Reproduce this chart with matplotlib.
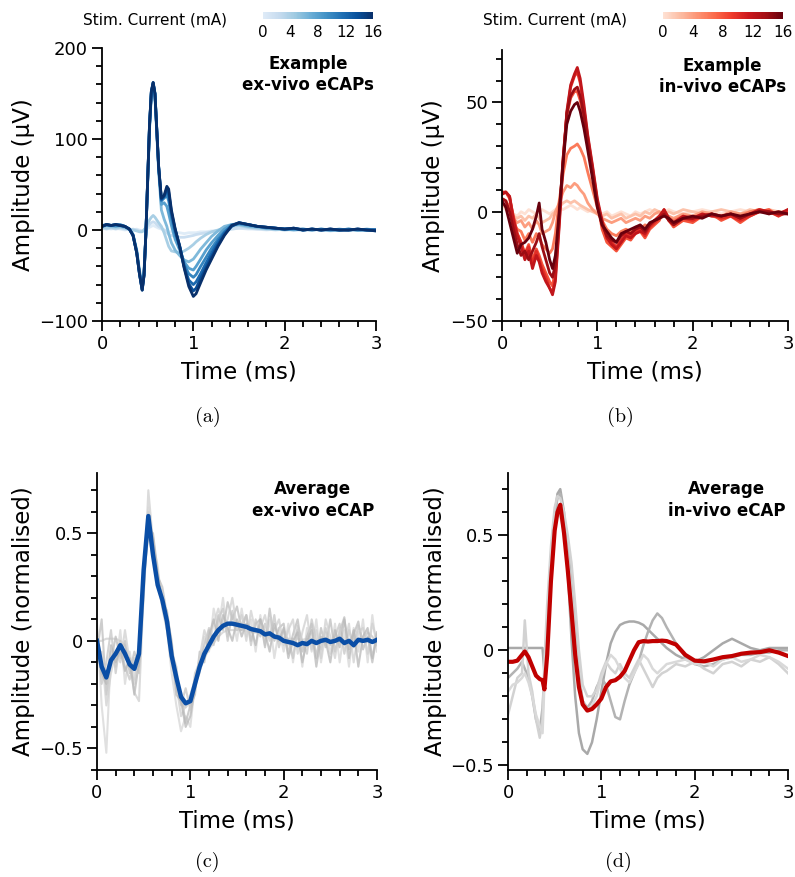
import numpy as np
import matplotlib
matplotlib.use("Agg")
import matplotlib.pyplot as plt
from matplotlib.colors import LinearSegmentedColormap, Normalize
from matplotlib.cm import ScalarMappable
from matplotlib.ticker import MultipleLocator, FuncFormatter

plt.rcParams['font.family'] = ['DejaVu Sans']

# ---------------- data ----------------
currents = [0, 2, 4, 6, 8, 10, 12, 14, 16]

# (a) ex-vivo example eCAPs (uV)
t_a = [0, 0.05, 0.1, 0.15, 0.2, 0.25, 0.3, 0.34, 0.38, 0.41, 0.44, 0.46, 0.48, 0.5, 0.52, 0.54, 0.56, 0.58,
       0.6, 0.62, 0.65, 0.68, 0.71, 0.73, 0.76, 0.8, 0.85, 0.9, 0.95, 1.0, 1.03, 1.08, 1.14, 1.2, 1.27, 1.34,
       1.42, 1.5, 1.6, 1.7, 1.8, 1.9, 2.0, 2.1, 2.2, 2.3, 2.4, 2.5, 2.6, 2.7, 2.8, 2.9, 3.0]
exv_0mA = [1, 2, 1, 2, 1, 0, 1, 0, 1, 0, -1, 0, 1, 2, 3, 4, 5, 4, 3, 2, 1, 0, -1, -2, -2, -3, -3, -4, -3, -3,
           -3, -2, -2, -1, -1, 0, 1, 2, 1, 1, 0, 1, 0, 0, 1, 0, 0, 1, 0, 0, 1, 0, 0]
exv_2mA = [2, 1, 2, 1, 2, 1, 0, 1, 0, -1, -1, 0, 2, 4, 6, 8, 9, 8, 6, 4, 2, 0, -3, -5, -6, -7, -8, -8, -7, -6,
           -5, -4, -3, -2, -1, 0, 1, 2, 2, 1, 1, 0, 1, 0, 0, 1, 0, -1, 0, 1, 0, 0, 0]
exv_4mA = [3, 2, 3, 2, 3, 2, 1, 0, -1, -2, -2, 0, 3, 7, 11, 14, 16, 14, 11, 8, 4, -3, -12, -18, -23, -24, -25,
           -23, -20, -16, -13, -9, -5, -2, 0, 2, 4, 5, 3, 2, 1, 1, 0, 1, 0, 0, 1, 0, 0, 1, 0, 0, 0]
exv_6mA = [4, 5, 4, 5, 4, 3, 1, -5, -22, -44, -60, -45, -4, 52, 110, 148, 157, 146, 105, 65, 22, 12, 4, -4,
           -14, -22, -28, -33, -35, -32, -28, -21, -14, -7, -1, 4, 6, 6, 4, 3, 2, 1, 1, 0, 1, 0, 1, 0, 0, 1,
           0, 0, 0]
exv_8mA = [4, 5, 5, 4, 5, 4, 1, -5, -23, -46, -63, -48, -5, 54, 112, 150, 160, 148, 108, 68, 28, 30, 26, 18,
           5, -10, -22, -35, -42, -44, -40, -32, -22, -14, -6, 1, 6, 7, 5, 4, 2, 2, 1, 1, 0, 1, 0, 0, 1, 0,
           0, 1, 0]
exv_10mA = [5, 6, 5, 5, 6, 4, 1, -6, -24, -47, -65, -49, -5, 55, 113, 151, 161, 149, 109, 69, 32, 35, 38, 32,
            14, -4, -18, -38, -48, -52, -49, -40, -30, -20, -10, -2, 5, 7, 6, 4, 3, 2, 1, 1, 1, 0, 1, 0, 0, 1,
            0, 0, -1]
exv_12mA = [4, 6, 5, 6, 5, 4, 1, -6, -25, -48, -66, -50, -5, 55, 114, 152, 162, 150, 110, 70, 33, 37, 42, 39,
            18, 0, -17, -40, -55, -60, -57, -48, -36, -25, -13, -3, 5, 8, 6, 4, 3, 2, 1, 2, 0, 1, 0, 1, 0, 0,
            1, 0, 0]
exv_14mA = [4, 6, 5, 6, 5, 4, 1, -6, -25, -48, -66, -50, -5, 55, 115, 152, 162, 150, 110, 70, 34, 37, 45, 42,
            20, 1, -18, -41, -59, -67, -64, -53, -41, -29, -16, -5, 4, 8, 6, 4, 3, 2, 1, 2, 0, 1, 0, 1, 0, 0,
            1, 0, 0]
exv_16mA = [4, 6, 5, 6, 5, 4, 1, -6, -25, -48, -66, -50, -5, 55, 115, 152, 162, 150, 110, 70, 35, 38, 48, 45,
            22, 2, -18, -42, -62, -73, -70, -58, -44, -32, -18, -6, 5, 8, 6, 4, 3, 2, 1, 2, 0, 1, 0, 1, 0, 0,
            1, 0, -1]

# (b) in-vivo example eCAPs (uV)
t_b = [0, 0.04, 0.08, 0.12, 0.16, 0.2, 0.24, 0.28, 0.32, 0.36, 0.39, 0.42, 0.46, 0.5, 0.53, 0.56, 0.6, 0.64,
       0.68, 0.72, 0.76, 0.79, 0.82, 0.86, 0.9, 0.95, 1.0, 1.05, 1.1, 1.15, 1.2, 1.25, 1.3, 1.35, 1.4, 1.45,
       1.5, 1.55, 1.6, 1.65, 1.7, 1.75, 1.8, 1.9, 2.0, 2.1, 2.2, 2.3, 2.4, 2.5, 2.6, 2.7, 2.8, 2.9, 3.0]
inv_0mA = [2, 1, 0, -1, -2, 0, -1, 1, 0, -1, 0, 1, 0, -1, 0, 1, 2, 1, 2, 3, 2, 1, 2, 1, 0, 1, 0, -1, 0, -2,
           -1, 0, -1, -2, 0, -1, 0, 1, 0, -1, 0, 1, 0, -1, 0, 1, 0, -1, 0, 1, 0, 1, 0, -1, 0]
inv_2mA = [3, 2, 0, -2, -3, -2, -4, -2, -3, -1, -3, -5, -4, -3, -1, 0, 2, 4, 5, 4, 5, 4, 3, 2, 1, 0, -1, -2,
           -1, -3, -2, -1, -3, -2, -1, -2, 0, -1, 1, 0, -1, 0, -1, 1, 0, -1, 0, 1, 0, -1, 1, 0, 1, 0, 0]
inv_4mA = [4, 3, 1, -3, -5, -4, -7, -5, -8, -4, -6, -10, -9, -8, -5, 0, 4, 9, 12, 11, 13, 12, 10, 8, 4, 1, -1,
           -3, -4, -5, -4, -3, -5, -4, -3, -4, -2, -3, -1, 0, -1, -2, -3, -1, -2, 0, -1, -2, 0, -1, 0, 1, 0,
           -1, 0]
inv_6mA = [6, 5, 2, -5, -8, -9, -13, -10, -14, -10, -12, -15, -17, -19, -17, -10, 5, 17, 26, 29, 30, 31, 29,
           25, 18, 10, 2, -4, -8, -10, -11, -9, -8, -9, -7, -8, -6, -7, -4, -2, -1, -3, -4, -2, -3, -1, -2, -3,
           -1, -2, 0, 1, -1, 0, -1]
inv_8mA = [8, 9, 6, -2, -10, -14, -19, -15, -22, -17, -20, -24, -28, -32, -34, -26, -3, 24, 44, 52, 55, 55,
           51, 42, 32, 19, 4, -8, -14, -16, -18, -15, -12, -13, -10, -9, -12, -8, -6, -4, 1, -4, -7, -4, -5,
           -2, -1, -4, -2, -5, -2, 0, 1, -2, 1]
inv_10mA = [9, 9, 7, -3, -10, -14, -20, -16, -24, -18, -22, -26, -30, -35, -37, -30, -5, 22, 45, 57, 62, 64,
            59, 47, 34, 20, 5, -5, -11, -14, -16, -13, -10, -11, -9, -8, -11, -7, -5, -3, 0, -4, -6, -3, -4,
            -2, -1, -3, -2, -4, -2, 0, 0, -2, 0]
inv_12mA = [8, 9, 7, -4, -11, -16, -22, -18, -26, -20, -23, -28, -32, -35, -38, -32, -7, 21, 46, 58, 63, 66,
            61, 49, 35, 21, 6, -4, -12, -15, -17, -14, -11, -12, -10, -9, -10, -6, -4, -2, 1, -3, -5, -2, -3,
            -1, -2, -2, -1, -3, -1, 1, 0, -1, 1]
inv_14mA = [6, 5, 0, -8, -15, -20, -18, -22, -18, -14, -10, -16, -22, -28, -30, -24, -2, 24, 45, 53, 56, 57,
            53, 44, 32, 18, 3, -6, -11, -13, -14, -11, -9, -10, -8, -7, -9, -6, -4, -3, -1, -4, -6, -3, -3,
            -2, -1, -2, -1, -3, -1, 0, 0, -1, -1]
inv_16mA = [5, 2, -5, -12, -19, -15, -14, -12, -8, -2, 4, -8, -14, -22, -26, -20, 0, 22, 40, 46, 49, 50, 46,
            38, 28, 15, 2, -6, -9, -12, -14, -10, -9, -8, -7, -6, -8, -5, -4, -3, -2, -3, -5, -3, -2, -3, -1,
            -2, -1, -2, -1, 0, -1, 0, -1]

# (c) average ex-vivo eCAP (normalised)
t_c = [0.0, 0.05, 0.1, 0.15, 0.2, 0.25, 0.3, 0.35, 0.4, 0.45, 0.5, 0.55, 0.6, 0.65, 0.7, 0.75, 0.8, 0.85,
       0.9, 0.95, 1.0, 1.05, 1.1, 1.15, 1.2, 1.25, 1.3, 1.35, 1.4, 1.45, 1.5, 1.55, 1.6, 1.65, 1.7, 1.75,
       1.8, 1.85, 1.9, 1.95, 2.0, 2.05, 2.1, 2.15, 2.2, 2.25, 2.3, 2.35, 2.4, 2.45, 2.5, 2.55, 2.6, 2.65,
       2.7, 2.75, 2.8, 2.85, 2.9, 2.95, 3.0]
avg_exv = [0.0, -0.12, -0.17, -0.09, -0.06, -0.02, -0.06, -0.11, -0.13, -0.06,
           0.33, 0.58, 0.40, 0.26, 0.19, 0.09, -0.07, -0.17, -0.26, -0.29,
           -0.28, -0.20, -0.12, -0.06, -0.02, 0.02, 0.05, 0.07, 0.08, 0.08,
           0.075, 0.07, 0.065, 0.055, 0.05, 0.045, 0.03, 0.035, 0.02, 0.015,
           0.0, -0.005, -0.01, -0.02, -0.01, -0.015, 0.0, -0.01, 0.0, 0.005,
           -0.005, 0.0, 0.01, -0.01, 0.0, -0.02, 0.005, 0.0, 0.005, -0.005, 0.005]
exv_set1 = [0.0, 0.0, 0.01, 0.01, 0.01, 0.0, -0.02, -0.1, -0.24, -0.28,
            0.22, 0.70, 0.46, 0.26, 0.16, 0.05, -0.1, -0.22, -0.29, -0.31,
            -0.28, -0.21, -0.14, -0.08, -0.04, -0.01, 0.02, 0.04, 0.05, 0.05,
            0.05, 0.05, 0.045, 0.04, 0.04, 0.035, 0.03, 0.025, 0.02, 0.02,
            0.015, 0.01, 0.01, 0.01, 0.005, 0.01, 0.005, 0.0, 0.005, 0.0,
            0.0, 0.005, 0.0, 0.0, 0.005, 0.0, 0.0, 0.0, 0.005, 0.0, 0.0]
exv_set2 = [0.08, -0.3, -0.52, -0.05, -0.12, 0.05, -0.2, -0.05, -0.18, 0.0,
            0.35, 0.62, 0.45, 0.35, 0.15, 0.05, -0.15, -0.3, -0.42, -0.35,
            -0.4, -0.2, -0.15, 0.02, -0.05, 0.15, 0.05, 0.2, 0.02, 0.12,
            0.0, 0.15, 0.02, 0.1, -0.05, 0.12, -0.02, 0.1, -0.08, 0.05,
            -0.05, 0.08, -0.1, 0.05, -0.12, 0.06, -0.05, 0.1, -0.1, 0.04,
            -0.06, 0.08, -0.1, 0.05, -0.12, 0.06, -0.05, 0.1, -0.1, 0.12, -0.05]
exv_set3 = [-0.05, 0.1, -0.25, -0.1, 0.02, -0.08, 0.0, -0.15, -0.05, -0.12,
            0.25, 0.55, 0.48, 0.3, 0.25, 0.12, 0.0, -0.2, -0.25, -0.38,
            -0.3, -0.25, -0.05, -0.1, 0.05, 0.0, 0.12, 0.05, 0.18, 0.1,
            0.16, 0.05, 0.12, 0.0, 0.08, 0.1, -0.03, 0.15, 0.0, 0.06,
            0.08, -0.06, 0.03, 0.1, -0.05, 0.02, 0.08, -0.08, 0.06, -0.03,
            0.1, -0.05, 0.04, 0.11, -0.08, 0.03, 0.09, -0.04, 0.02, -0.1, 0.03]
exv_set4 = [0.05, -0.2, -0.1, 0.05, -0.15, 0.0, -0.12, -0.18, -0.08, -0.15,
            0.28, 0.5, 0.38, 0.28, 0.2, 0.08, -0.05, -0.12, -0.3, -0.22,
            -0.32, -0.15, -0.1, -0.02, 0.06, -0.02, 0.1, 0.15, 0.0, 0.14,
            0.05, 0.08, 0.12, -0.02, 0.1, 0.02, 0.08, 0.0, 0.12, -0.03,
            0.05, 0.0, -0.08, 0.07, 0.0, -0.06, 0.1, 0.0, -0.04, 0.06,
            -0.02, 0.02, 0.08, -0.06, 0.05, -0.03, 0.07, 0.0, 0.04, 0.02, -0.02]
exv_set5 = [-0.1, -0.05, -0.3, -0.15, -0.05, -0.1, 0.05, -0.1, -0.2, -0.05,
            0.2, 0.6, 0.42, 0.3, 0.22, 0.1, -0.1, -0.2, -0.35, -0.3,
            -0.25, -0.18, -0.08, 0.05, -0.02, 0.08, 0.15, 0.06, 0.1, 0.2,
            0.06, 0.12, 0.0, 0.14, 0.04, 0.06, 0.12, 0.02, 0.05, 0.1,
            -0.02, 0.05, 0.1, -0.06, 0.04, 0.12, -0.04, 0.05, -0.08, 0.1,
            0.02, -0.08, 0.06, -0.02, 0.08, -0.1, 0.04, 0.06, -0.06, 0.08, 0.0]
exv_set6 = [0.0, -0.15, -0.2, -0.02, -0.1, -0.04, -0.14, -0.08, -0.25, -0.1,
            0.3, 0.52, 0.5, 0.32, 0.18, 0.14, -0.02, -0.25, -0.28, -0.4,
            -0.35, -0.22, -0.1, -0.08, 0.02, 0.1, 0.0, 0.12, 0.06, 0.0,
            0.1, 0.02, 0.08, 0.06, -0.02, 0.1, 0.04, -0.05, 0.08, 0.0,
            0.06, -0.08, 0.0, 0.04, -0.1, 0.0, 0.05, -0.12, 0.02, 0.0,
            -0.1, 0.05, -0.03, 0.1, -0.04, 0.05, -0.12, 0.02, 0.06, -0.08, 0.04]

# (d) average in-vivo eCAP (normalised)
t_d = [0, 0.05, 0.1, 0.15, 0.18, 0.22, 0.26, 0.3, 0.34, 0.37, 0.39, 0.42, 0.46, 0.5, 0.53, 0.56, 0.6, 0.64,
       0.68, 0.72, 0.76, 0.8, 0.85, 0.9, 0.95, 1.0, 1.05, 1.1, 1.15, 1.2, 1.25, 1.3, 1.35, 1.4, 1.45, 1.5,
       1.55, 1.6, 1.65, 1.7, 1.8, 1.9, 2.0, 2.1, 2.2, 2.3, 2.4, 2.5, 2.6, 2.7, 2.8, 2.9, 3.0]
avg_inv = [-0.05, -0.05, -0.045, -0.02, -0.005, -0.03, -0.07, -0.11, -0.125, -0.13,
           -0.17, -0.02, 0.3, 0.52, 0.6, 0.632, 0.51, 0.35, 0.17, -0.02,
           -0.16, -0.235, -0.262, -0.255, -0.235, -0.21, -0.16, -0.135, -0.13, -0.115,
           -0.09, -0.045, 0.0, 0.035, 0.04, 0.038, 0.04, 0.04, 0.042, 0.04,
           0.025, -0.02, -0.045, -0.048, -0.04, -0.03, -0.025, -0.015, -0.01, -0.008,
           0.0, -0.01, -0.025]
inv_set1 = [0.01, 0.01, 0.01, 0.01, 0.01, 0.01, 0.01, 0.01, 0.01, 0.01,
            -0.1, 0.1, 0.35, 0.58, 0.68, 0.70, 0.6, 0.35, 0.05, -0.2,
            -0.36, -0.43, -0.45, -0.4, -0.3, -0.18, -0.06, 0.03, 0.08, 0.11,
            0.12, 0.125, 0.125, 0.12, 0.11, 0.09, 0.07, 0.05, 0.03, 0.01,
            -0.02, -0.04, -0.05, -0.03, 0.0, 0.03, 0.05, 0.03, 0.01, 0.0,
            0.01, 0.01, 0.01]
inv_set2 = [-0.12, -0.1, -0.08, -0.05, -0.08, -0.12, -0.2, -0.3, -0.35, -0.25,
            -0.1, 0.12, 0.38, 0.58, 0.66, 0.68, 0.58, 0.45, 0.3, 0.1,
            -0.1, -0.22, -0.25, -0.22, -0.16, -0.12, -0.15, -0.22, -0.29, -0.3,
            -0.22, -0.15, -0.1, -0.05, 0.02, 0.08, 0.13, 0.16, 0.14, 0.1,
            0.03, -0.03, -0.06, -0.07, -0.06, -0.04, -0.03, -0.02, -0.02, -0.01,
            -0.01, 0.0, 0.0]
inv_set3 = [-0.28, -0.2, -0.12, -0.1, 0.13, -0.1, -0.18, -0.3, -0.38, -0.3,
            -0.05, 0.2, 0.45, 0.62, 0.67, 0.66, 0.6, 0.5, 0.38, 0.2,
            0.0, -0.15, -0.2, -0.2, -0.17, -0.1, -0.05, -0.08, -0.1, -0.06,
            -0.1, -0.12, -0.08, -0.04, -0.08, -0.12, -0.16, -0.12, -0.1, -0.09,
            -0.06, -0.07, -0.05, -0.08, -0.1, -0.06, -0.05, -0.07, -0.04, -0.05,
            -0.03, -0.06, -0.1]
inv_set4 = [-0.18, -0.15, -0.14, -0.12, -0.1, -0.14, -0.2, -0.28, -0.33, -0.36,
            -0.15, 0.1, 0.4, 0.57, 0.6, 0.58, 0.52, 0.4, 0.25, 0.05,
            -0.12, -0.22, -0.26, -0.24, -0.2, -0.12, -0.06, -0.02, -0.04, -0.08,
            -0.12, -0.14, -0.1, -0.06, -0.02, -0.04, -0.08, -0.1, -0.08, -0.06,
            -0.05, -0.04, -0.06, -0.05, -0.07, -0.04, -0.03, -0.05, -0.04, -0.02,
            -0.03, -0.05, -0.08]

# ---------------- figure ----------------
W, H = 795, 877
fig = plt.figure(figsize=(W / 100, H / 100), dpi=100)


def px_axes(x0, y0, x1, y1):
    # pixel box (left, top, right, bottom) -> figure axes
    return fig.add_axes([x0 / W, 1 - y1 / H, (x1 - x0) / W, (y1 - y0) / H])


num_fmt = FuncFormatter(lambda v, p: ('%g' % round(v, 6)).replace('-', '\u2212'))


def style(ax, ylim, major, minor):
    ax.set_xlim(0, 3)
    ax.set_ylim(*ylim)
    for s in ['top', 'right']:
        ax.spines[s].set_visible(False)
    for s in ['left', 'bottom']:
        ax.spines[s].set_linewidth(1.3)
    ax.xaxis.set_major_locator(MultipleLocator(1))
    ax.xaxis.set_minor_locator(MultipleLocator(0.2))
    ax.yaxis.set_major_locator(MultipleLocator(major))
    ax.yaxis.set_minor_locator(MultipleLocator(minor))
    ax.xaxis.set_major_formatter(num_fmt)
    ax.yaxis.set_major_formatter(num_fmt)
    ax.tick_params(which='major', direction='out', length=7, width=1.3, labelsize=13, pad=3)
    ax.tick_params(which='minor', direction='out', length=4, width=1.3)
    ax.set_xlabel('Time (ms)', fontsize=16.5)


def trunc(name):
    base = plt.get_cmap(name)
    return LinearSegmentedColormap.from_list(name + '_t', base(np.linspace(0.12, 1.0, 256)))


blues = trunc('Blues')
reds = trunc('Reds')
norm = Normalize(0, 16)

ax_a = px_axes(102, 48, 376, 321)
ax_b = px_axes(502, 50, 788, 321)
ax_c = px_axes(97, 473, 377, 770)
ax_d = px_axes(508, 473, 788, 770)

# (a)
exv_traces = [exv_0mA, exv_2mA, exv_4mA, exv_6mA, exv_8mA, exv_10mA, exv_12mA, exv_14mA, exv_16mA]
for cur, tr in zip(currents, exv_traces):
    ax_a.plot(t_a, tr, color=blues(norm(cur)), lw=2.0, solid_joinstyle='round')
style(ax_a, (-100, 200), 100, 20)
ax_a.set_ylabel('Amplitude (μV)', fontsize=16.5)
ax_a.text(0.752, 0.975, 'Example\nex-vivo eCAPs', transform=ax_a.transAxes, ha='center', va='top',
          fontsize=12, fontweight='bold', linespacing=1.25)

# (b)
inv_traces = [inv_0mA, inv_2mA, inv_4mA, inv_6mA, inv_8mA, inv_10mA, inv_12mA, inv_14mA, inv_16mA]
for cur, tr in zip(currents, inv_traces):
    ax_b.plot(t_b, tr, color=reds(norm(cur)), lw=2.0, solid_joinstyle='round')
style(ax_b, (-50, 74), 50, 10)
ax_b.set_ylabel('Amplitude (μV)', fontsize=16.5)
ax_b.text(0.77, 0.975, 'Example\nin-vivo eCAPs', transform=ax_b.transAxes, ha='center', va='top',
          fontsize=12, fontweight='bold', linespacing=1.25)

# (c)
gray_c = [exv_set1, exv_set2, exv_set3, exv_set4, exv_set5, exv_set6]
for tr, col in zip(gray_c, ['#cfcfcf', '#d6d6d6', '#bdbdbd', '#c6c6c6', '#d0d0d0', '#b8b8b8']):
    ax_c.plot(t_c, tr, color=col, lw=1.5, alpha=0.75)
ax_c.plot(t_c, avg_exv, color='#0a4ea6', lw=3.2)
style(ax_c, (-0.6, 0.78), 0.5, 0.1)
ax_c.set_ylabel('Amplitude (normalised)', fontsize=16.5)
ax_c.text(0.771, 0.976, 'Average\nex-vivo eCAP', transform=ax_c.transAxes, ha='center', va='top',
          fontsize=12, fontweight='bold', linespacing=1.25)

# (d)
for tr, col in zip([inv_set1, inv_set2, inv_set3, inv_set4], ['#a9a9a9', '#b3b3b3', '#d2d2d2', '#d9d9d9']):
    ax_d.plot(t_d, tr, color=col, lw=1.8)
ax_d.plot(t_d, avg_inv, color='#c00000', lw=3.0)
style(ax_d, (-0.52, 0.77), 0.5, 0.1)
ax_d.set_ylabel('Amplitude (normalised)', fontsize=16.5)
ax_d.text(0.782, 0.976, 'Average\nin-vivo eCAP', transform=ax_d.transAxes, ha='center', va='top',
          fontsize=12, fontweight='bold', linespacing=1.25)

# label positions
ax_a.yaxis.set_label_coords(-0.245, 0.5)
ax_b.yaxis.set_label_coords(-0.2, 0.5)
ax_c.yaxis.set_label_coords(-0.221, 0.5)
ax_d.yaxis.set_label_coords(-0.218, 0.5)
for ax in [ax_a, ax_b]:
    ax.xaxis.set_label_coords(0.5, -0.145)
for ax in [ax_c, ax_d]:
    ax.xaxis.set_label_coords(0.5, -0.133)

# colorbars
for (x0, x1, tx0, cmap) in [(263, 373, 227, blues), (663, 783, 627, reds)]:
    cax = px_axes(x0, 12, x1, 19)
    cb = fig.colorbar(ScalarMappable(norm=norm, cmap=cmap), cax=cax, orientation='horizontal',
                      ticks=[0, 4, 8, 12, 16])
    cb.outline.set_visible(False)
    cax.tick_params(length=0, labelsize=11, pad=4)
    fig.text(tx0 / W, 1 - 20 / H, 'Stim. Current (mA)', ha='right', va='center', fontsize=11)

# panel letters
for lab, x, y in [('(a)', 208, 417), ('(b)', 620, 417), ('(c)', 207, 862), ('(d)', 618, 862)]:
    fig.text(x / W, 1 - y / H, lab, ha='center', va='center', fontsize=14.5, family='cmr10')

fig.savefig('out.png', dpi=100)
